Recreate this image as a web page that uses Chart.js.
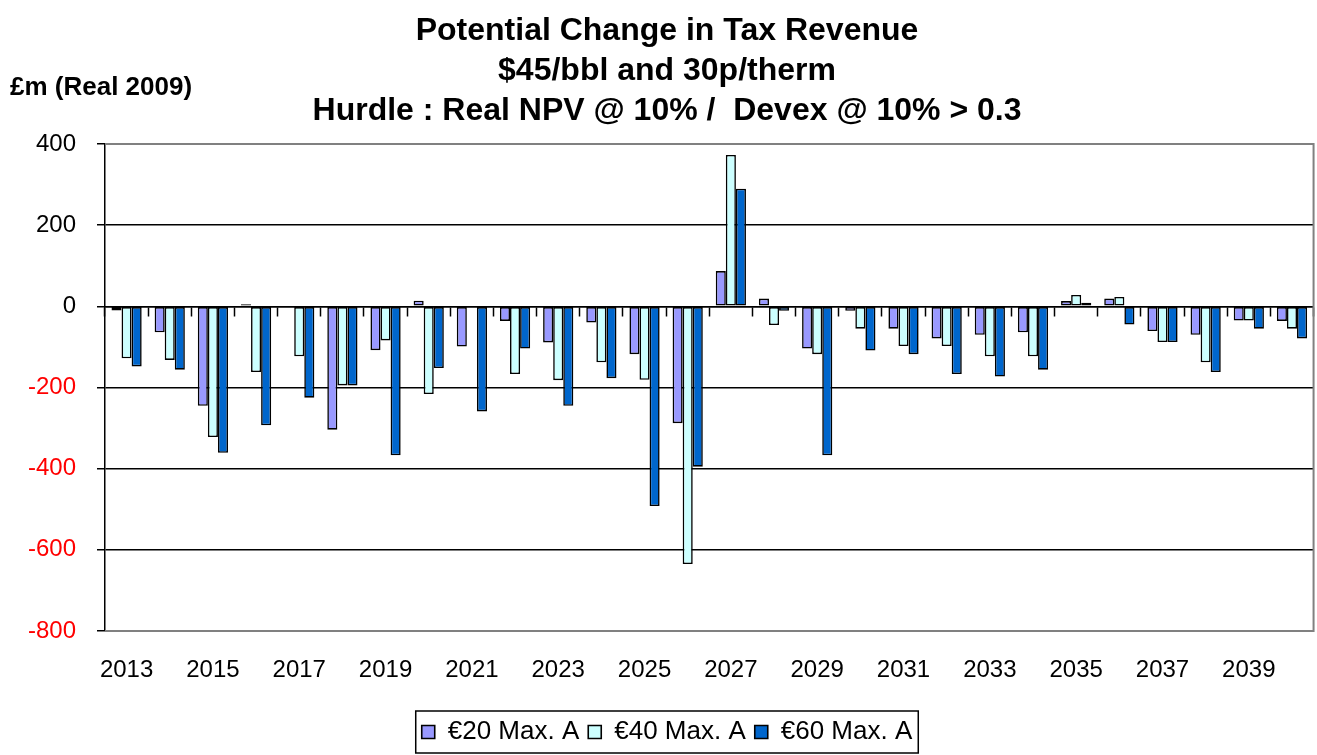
<!DOCTYPE html>
<html lang="en">
<head>
  <meta charset="UTF-8">
  <title>Potential Change in Tax Revenue</title>
  <script src="https://cdn.jsdelivr.net/npm/chart.js@4"></script>
  <style>
    * { margin: 0; padding: 0; box-sizing: border-box; }
    body { background: #fff; }
    .wrap { position: relative; width: 1317px; height: 755px; }
  </style>
</head>
<body>
  <div class="wrap"><canvas id="chart"></canvas></div>

  <script>
    // Data (£m, Real 2009)
    const years = ['2013', '2014', '2015', '2016', '2017', '2018', '2019', '2020', '2021', '2022',
      '2023', '2024', '2025', '2026', '2027', '2028', '2029', '2030', '2031', '2032',
      '2033', '2034', '2035', '2036', '2037', '2038', '2039', '2040'];
    const eur20 = [-10, -64, -245, 5, 0, -304, -108, 14, -99, -36,
      -89, -40, -118, -288, 87, 19, -104, -11, -55, -79,
      -70, -64, 13, 19, -61, -70, -35, -36];
    const eur40 = [-128, -132, -322, -162, -123, -195, -84, -216, 0, -167,
      -182, -138, -181, -635, 373, -46, -118, -55, -98, -98,
      -123, -123, 28, 23, -88, -138, -35, -55];
    const eur60 = [-148, -156, -361, -293, -225, -195, -367, -152, -259, -104,
      -245, -177, -492, -395, 290, -11, -367, -109, -118, -167,
      -173, -156, 9, -45, -88, -162, -55, -79];
    const seriesNames = ['€20 Max. A', '€40 Max. A', '€60 Max. A'];
    const titleLines = ['Potential Change in Tax Revenue', '$45/bbl and 30p/therm', 'Hurdle : Real NPV @ 10% /  Devex @ 10% > 0.3'];
    const unitLabel = '£m (Real 2009)';
    const yMin = -800, yMax = 400, yStep = 200;

    const FONT = "'Liberation Sans', Arial, sans-serif";
    Chart.defaults.font.family = FONT;
    Chart.defaults.color = '#000';

    const lilac = '#9999ff', paleCyan = '#ccffff', blue = '#0066cc', frameGrey = '#808080';

    // unit label, grey plot frame, legend border
    const extras = {
      id: 'extras',
      beforeDatasetsDraw(chart) {
        const { ctx, chartArea: a } = chart;
        ctx.save();
        ctx.strokeStyle = frameGrey;
        ctx.lineWidth = 2;
        ctx.beginPath();
        ctx.moveTo(a.left, a.top);
        ctx.lineTo(a.right, a.top);
        ctx.lineTo(a.right, a.bottom);
        ctx.lineTo(a.left, a.bottom);
        ctx.stroke();
        ctx.restore();
      },
      afterDraw(chart) {
        const { ctx } = chart;
        ctx.save();
        ctx.font = 'bold 26px ' + FONT;
        ctx.fillStyle = '#000';
        ctx.textBaseline = 'middle';
        ctx.fillText(unitLabel, 10, 88);

        const boxes = chart.legend.legendHitBoxes;
        if (boxes && boxes.length) {
          const l = Math.min(...boxes.map(b => b.left)) - 6;
          const r = Math.max(...boxes.map(b => b.left + b.width)) + 6;
          const t = boxes[0].top - 8;
          const b = boxes[0].top + boxes[0].height + 8;
          ctx.strokeStyle = '#000';
          ctx.lineWidth = 1.5;
          ctx.strokeRect(l, t, r - l, b - t);
        }
        ctx.restore();
      }
    };

    const mk = (label, data, color) => ({
      label, data,
      backgroundColor: color,
      borderColor: '#000',
      borderWidth: 1.6,
      borderSkipped: false,
      categoryPercentage: 0.7,
      barPercentage: 1.0
    });

    new Chart(document.getElementById('chart'), {
      type: 'bar',
      data: {
        labels: years,
        datasets: [
          mk(seriesNames[0], eur20, lilac),
          mk(seriesNames[1], eur40, paleCyan),
          mk(seriesNames[2], eur60, blue)
        ]
      },
      options: {
        responsive: true,
        maintainAspectRatio: false,
        animation: false,
        devicePixelRatio: 1,
        layout: { padding: { left: 18, right: 1, top: 0, bottom: 0 } },
        plugins: {
          title: {
            display: true,
            text: titleLines,
            font: { size: 32, weight: 'bold', lineHeight: 1.25 },
            color: '#000',
            padding: { top: 11, bottom: 13 }
          },
          legend: {
            position: 'bottom',
            labels: { font: { size: 26 }, color: '#000', boxWidth: 13, boxHeight: 13, padding: 9 }
          },
          tooltip: { enabled: false }
        },
        scales: {
          x: {
            type: 'category',
            offset: true,
            grid: { display: false, drawTicks: false },
            border: { display: false },
            ticks: {
              autoSkip: false,
              maxRotation: 0,
              padding: 25,
              font: { size: 24 },
              color: '#000',
              callback: (v, i) => (i % 2 === 0 ? years[i] : '')
            },
            afterFit: s => { s.height = 79; }
          },
          xZero: {
            type: 'category',
            axis: 'x',
            position: { y: 0 },
            offset: true,
            ticks: { display: false },
            grid: { offset: true, drawOnChartArea: false, drawTicks: true, tickLength: 9, tickColor: '#000', tickWidth: 1.5 },
            border: { display: true, color: '#000', width: 1.5 }
          },
          y: {
            min: yMin,
            max: yMax,
            ticks: {
              stepSize: yStep,
              padding: 21,
              font: { size: 24 },
              color: c => (c.tick.value < 0 ? '#ff0000' : '#000')
            },
            grid: {
              color: c => (c.tick.value === yMax || c.tick.value === yMin ? 'rgba(0,0,0,0)' : '#000'),
              lineWidth: 1.5,
              tickColor: '#000',
              tickLength: 8
            },
            border: { display: true, color: '#000', width: 1.5 },
            afterFit: s => { s.width = 87; }
          }
        }
      },
      plugins: [extras]
    });
  </script>
</body>
</html>
